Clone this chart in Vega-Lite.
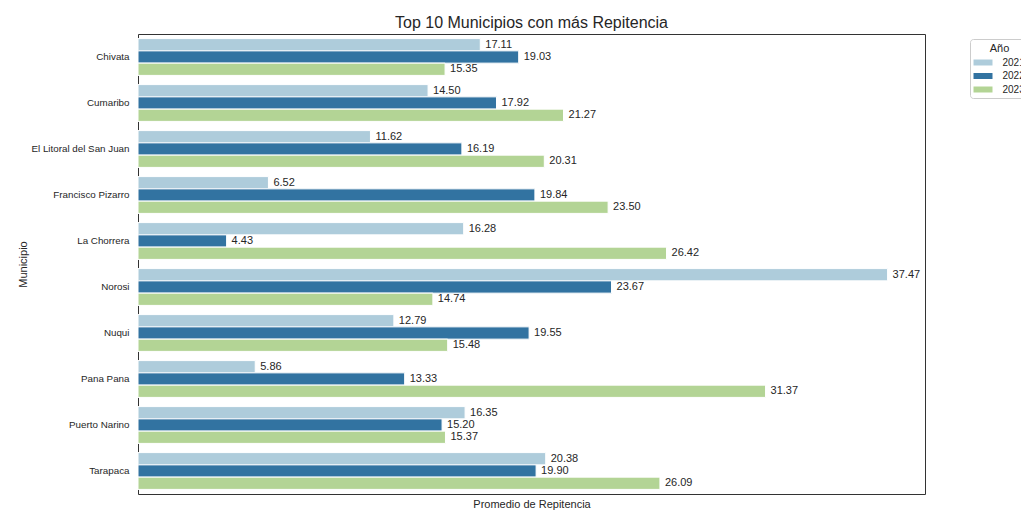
{
  "$schema": "https://vega.github.io/schema/vega-lite/v6.json",
  "width": 787,
  "height": 460,
  "autosize": {"type": "none"},
  "padding": {"left": 138, "top": 34, "right": 96, "bottom": 19},
  "background": "white",
  "title": {"text": "Top 10 Municipios con más Repitencia", "fontSize": 16, "font": "Liberation Sans", "fontWeight": "normal", "color": "#262626", "offset": 3},
  "config": {
    "font": "Liberation Sans",
    "view": {"stroke": "#333333", "strokeWidth": 1}
  },
  "data": {"values": [
    {"municipio": "Chivata", "anio": "2021", "valor": 17.11},
    {"municipio": "Chivata", "anio": "2022", "valor": 19.03},
    {"municipio": "Chivata", "anio": "2023", "valor": 15.35},
    {"municipio": "Cumaribo", "anio": "2021", "valor": 14.50},
    {"municipio": "Cumaribo", "anio": "2022", "valor": 17.92},
    {"municipio": "Cumaribo", "anio": "2023", "valor": 21.27},
    {"municipio": "El Litoral del San Juan", "anio": "2021", "valor": 11.62},
    {"municipio": "El Litoral del San Juan", "anio": "2022", "valor": 16.19},
    {"municipio": "El Litoral del San Juan", "anio": "2023", "valor": 20.31},
    {"municipio": "Francisco Pizarro", "anio": "2021", "valor": 6.52},
    {"municipio": "Francisco Pizarro", "anio": "2022", "valor": 19.84},
    {"municipio": "Francisco Pizarro", "anio": "2023", "valor": 23.50},
    {"municipio": "La Chorrera", "anio": "2021", "valor": 16.28},
    {"municipio": "La Chorrera", "anio": "2022", "valor": 4.43},
    {"municipio": "La Chorrera", "anio": "2023", "valor": 26.42},
    {"municipio": "Norosi", "anio": "2021", "valor": 37.47},
    {"municipio": "Norosi", "anio": "2022", "valor": 23.67},
    {"municipio": "Norosi", "anio": "2023", "valor": 14.74},
    {"municipio": "Nuqui", "anio": "2021", "valor": 12.79},
    {"municipio": "Nuqui", "anio": "2022", "valor": 19.55},
    {"municipio": "Nuqui", "anio": "2023", "valor": 15.48},
    {"municipio": "Pana Pana", "anio": "2021", "valor": 5.86},
    {"municipio": "Pana Pana", "anio": "2022", "valor": 13.33},
    {"municipio": "Pana Pana", "anio": "2023", "valor": 31.37},
    {"municipio": "Puerto Narino", "anio": "2021", "valor": 16.35},
    {"municipio": "Puerto Narino", "anio": "2022", "valor": 15.20},
    {"municipio": "Puerto Narino", "anio": "2023", "valor": 15.37},
    {"municipio": "Tarapaca", "anio": "2021", "valor": 20.38},
    {"municipio": "Tarapaca", "anio": "2022", "valor": 19.90},
    {"municipio": "Tarapaca", "anio": "2023", "valor": 26.09}
  ]},
  "encoding": {
    "y": {
      "field": "municipio", "type": "nominal", "sort": null,
      "scale": {"paddingInner": 0.2, "paddingOuter": 0.1},
      "axis": {"title": "Municipio", "domain": false, "ticks": false, "labelPadding": 9, "labelFontSize": 9.8, "labelColor": "#262626", "titleFontSize": 11, "titleFontWeight": "normal", "titleColor": "#262626", "titlePadding": 2}
    },
    "yOffset": {"field": "anio", "type": "nominal", "scale": {"paddingInner": 0, "paddingOuter": 0}},
    "x": {
      "field": "valor", "type": "quantitative",
      "scale": {"domain": [0, 39.34], "nice": false, "zero": true},
      "axis": {"title": "Promedio de Repitencia", "labels": false, "ticks": false, "domain": false, "grid": false, "titleFontSize": 11, "titleFontWeight": "normal", "titleColor": "#262626", "titlePadding": 4}
    }
  },
  "layer": [
    {
      "mark": {"type": "bar", "stroke": "white", "strokeWidth": 1},
      "encoding": {
        "color": {
          "field": "anio", "type": "nominal",
          "scale": {"domain": ["2021", "2022", "2023"], "range": ["#aeccdb", "#3273a1", "#b3d495"]},
          "legend": {"title": "Año", "orient": "none", "legendX": 832, "legendY": 5, "titleFontSize": 11, "titleFontWeight": "normal", "titleColor": "#262626", "titleAnchor": "middle", "titlePadding": 4, "labelFontSize": 10, "labelColor": "#262626", "labelOffset": 14.5, "symbolType": "M-1.9,-0.6H1.9V0.6H-1.9Z", "symbolSize": 100, "symbolOffset": 4.5, "symbolStrokeWidth": 0, "strokeColor": "#cccccc", "padding": 3.5, "cornerRadius": 3, "rowPadding": 3.5}
        }
      }
    },
    {
      "mark": {"type": "text", "align": "left", "baseline": "middle", "dx": 5, "fontSize": 11, "color": "#262626"},
      "encoding": {
        "text": {"field": "valor", "type": "quantitative", "format": ".2f"}
      }
    }
  ]
}
